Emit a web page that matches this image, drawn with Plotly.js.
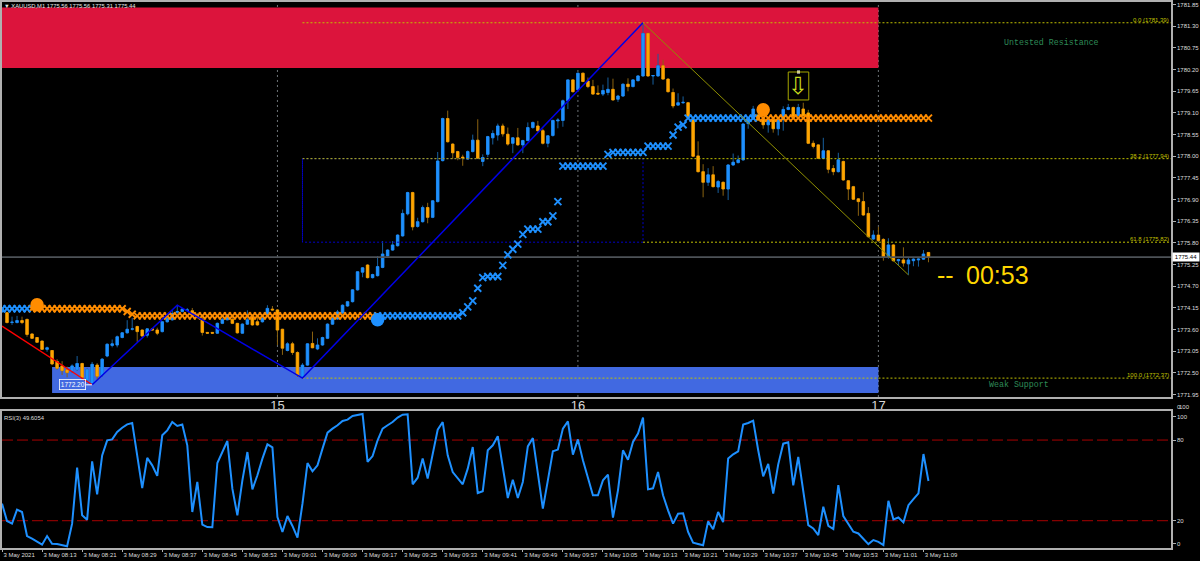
<!DOCTYPE html>
<html><head><meta charset="utf-8">
<script src="https://cdn.plot.ly/plotly-3.0.1.min.js"></script>
<style>html,body{margin:0;padding:0;background:#000}#c{width:1200px;height:561px}</style>
</head><body><div id="c"></div>
<script>
// one candle per minute, bar 0 = 08:05
const opens=[
1774.05,1774.03,1773.78,1773.78,1773.83,1773.86,1773.49,1773.40,1773.31,1773.10,
1773.07,1772.79,1772.68,1772.58,1772.55,1772.59,1772.74,1772.32,1772.24,1772.70,
1772.45,1772.93,1773.20,1773.21,1773.40,1773.52,1773.61,1773.68,1773.59,1773.46,
1773.62,1773.59,1773.55,1773.80,1773.85,1774.04,1774.06,1774.09,1774.08,1773.97,
1773.85,1773.53,1773.53,1773.51,1773.76,1773.85,1773.86,1773.76,1773.51,1773.74,
1773.95,1773.80,1773.80,1773.97,1774.12,1774.10,1773.61,1773.07,1773.24,1773.02,
1772.41,1772.70,1773.25,1773.11,1773.21,1773.38,1773.74,1773.87,1774.02,1774.20,
1774.31,1774.61,1775.06,1775.24,1774.92,1774.97,1775.18,1775.47,1775.62,1775.73,
1775.98,1776.54,1777.08,1776.22,1776.34,1776.70,1776.45,1776.85,1777.89,1778.96,
1778.31,1778.12,1777.98,1777.93,1778.12,1778.41,1777.87,1778.05,1778.47,1778.54,
1778.77,1778.56,1778.33,1778.47,1778.29,1778.40,1778.73,1778.77,1778.65,1778.33,
1778.53,1778.90,1778.91,1779.41,1779.94,1779.69,1780.11,1779.91,1779.77,1779.60,
1779.58,1779.62,1779.70,1779.45,1779.53,1779.83,1779.77,1779.92,1780.04,1781.12,
1780.04,1780.04,1780.30,1779.96,1779.62,1779.30,1779.36,1779.36,1778.94,1778.01,
1777.61,1777.34,1777.53,1777.22,1777.34,1777.17,1777.78,1777.84,1777.91,1778.83,
1778.95,1779.05,1778.95,1778.80,1778.93,1778.70,1778.93,1779.19,1779.24,1779.03,
1779.20,1779.10,1778.33,1778.29,1777.95,1778.14,1777.69,1777.61,1777.87,1777.38,
1777.23,1776.92,1776.85,1776.55,1775.90,1776.00,1775.89,1775.45,1775.75,1775.35,
1775.37,1775.27,1775.35,1775.37,1775.39,1775.56];
const highs=[
1774.17,1774.05,1773.93,1773.95,1773.93,1773.88,1773.50,1773.41,1773.32,1773.17,
1773.08,1772.85,1772.80,1772.66,1772.72,1772.93,1772.76,1772.62,1772.78,1772.75,
1772.88,1773.25,1773.35,1773.45,1773.54,1773.84,1773.90,1773.70,1773.60,1773.64,
1773.63,1773.65,1773.82,1773.95,1774.10,1774.22,1774.15,1774.15,1774.15,1774.02,
1773.96,1773.54,1773.54,1773.78,1773.90,1774.00,1773.95,1773.77,1773.76,1774.09,
1773.97,1773.95,1773.95,1774.22,1774.20,1774.12,1773.62,1773.28,1773.29,1773.05,
1772.75,1773.26,1773.55,1773.38,1773.42,1773.76,1773.95,1774.10,1774.24,1774.33,
1774.63,1775.08,1775.19,1775.26,1775.02,1775.47,1775.85,1775.64,1775.85,1776.02,
1776.65,1777.10,1777.10,1776.44,1776.75,1776.82,1776.89,1778.11,1778.98,1779.16,
1778.33,1778.14,1778.04,1778.15,1778.55,1778.94,1778.05,1778.52,1778.66,1778.83,
1778.83,1778.73,1778.49,1778.72,1778.42,1778.86,1778.88,1778.90,1778.70,1778.54,
1778.93,1778.97,1779.44,1779.95,1779.96,1780.12,1780.12,1780.00,1779.94,1779.80,
1779.82,1780.00,1779.97,1779.56,1779.85,1779.98,1779.96,1780.06,1781.39,1781.14,
1780.06,1780.60,1780.45,1779.98,1779.72,1779.60,1779.52,1779.38,1778.96,1778.38,
1777.80,1777.70,1777.75,1777.40,1777.36,1777.80,1778.07,1778.02,1778.84,1778.99,
1779.28,1779.15,1779.05,1778.95,1778.95,1778.95,1779.27,1779.33,1779.26,1779.33,
1779.36,1779.18,1778.40,1778.31,1778.47,1778.16,1777.78,1778.09,1777.89,1777.40,
1777.25,1776.94,1777.09,1776.71,1776.12,1776.21,1775.92,1775.92,1775.77,1775.40,
1775.69,1775.42,1775.41,1775.41,1775.62,1775.56];
const lows=[
1774.03,1773.76,1773.72,1773.76,1773.74,1773.42,1773.37,1773.27,1773.09,1773.04,
1772.70,1772.58,1772.45,1772.39,1772.50,1772.55,1772.32,1772.28,1772.20,1772.33,
1772.40,1772.90,1773.15,1773.15,1773.38,1773.50,1773.58,1773.29,1773.42,1773.40,
1773.58,1773.46,1773.53,1773.78,1773.83,1773.98,1774.04,1774.05,1773.98,1773.88,
1773.45,1773.50,1773.50,1773.49,1773.74,1773.84,1773.74,1773.50,1773.50,1773.72,
1773.70,1773.70,1773.78,1773.95,1774.08,1773.21,1772.96,1773.05,1772.96,1772.40,
1772.37,1772.68,1773.13,1773.08,1773.19,1773.36,1773.72,1773.85,1774.00,1774.18,
1774.29,1774.59,1774.93,1774.90,1774.90,1774.95,1775.16,1775.45,1775.60,1775.71,
1775.96,1776.50,1776.12,1776.19,1776.32,1776.30,1776.43,1776.83,1777.87,1778.35,
1777.93,1777.90,1777.76,1777.91,1778.10,1777.93,1777.75,1777.98,1778.30,1778.40,
1778.50,1778.27,1778.08,1778.27,1778.08,1778.38,1778.70,1778.62,1778.30,1778.23,
1778.50,1778.71,1778.75,1779.20,1779.62,1779.67,1779.88,1779.73,1779.56,1779.57,
1779.53,1779.55,1779.42,1779.38,1779.51,1779.65,1779.75,1779.90,1780.02,1780.02,
1779.82,1780.02,1779.95,1779.62,1779.22,1779.28,1779.33,1778.99,1777.98,1777.59,
1776.96,1777.25,1777.21,1777.07,1777.00,1776.89,1777.76,1777.82,1777.89,1778.70,
1778.93,1778.90,1778.70,1778.60,1778.60,1778.53,1778.65,1779.17,1778.93,1779.01,
1779.01,1778.31,1778.20,1777.93,1777.93,1777.57,1777.52,1777.59,1777.38,1776.89,
1776.89,1776.49,1776.49,1775.94,1775.88,1775.84,1775.35,1775.40,1775.33,1775.24,
1775.20,1774.99,1775.21,1775.20,1775.37,1775.31];
const closes=[
1774.15,1773.78,1773.79,1773.83,1773.78,1773.48,1773.38,1773.28,1773.10,1773.14,
1772.73,1772.62,1772.56,1772.51,1772.68,1772.74,1772.39,1772.59,1772.72,1772.42,
1772.85,1773.23,1773.24,1773.42,1773.52,1773.61,1773.62,1773.55,1773.44,1773.62,
1773.59,1773.51,1773.80,1773.89,1774.01,1774.06,1774.12,1774.10,1774.01,1773.92,
1773.53,1773.51,1773.51,1773.76,1773.86,1773.97,1773.76,1773.52,1773.74,1773.85,
1773.72,1773.72,1773.89,1774.14,1774.10,1773.59,1773.13,1773.24,1773.02,1772.45,
1772.70,1773.24,1773.14,1773.21,1773.40,1773.74,1773.89,1774.05,1774.22,1774.31,
1774.61,1775.07,1775.17,1774.92,1775.00,1775.20,1775.52,1775.62,1775.75,1776.00,
1776.55,1777.08,1776.21,1776.34,1776.70,1776.45,1776.87,1777.88,1778.96,1778.37,
1778.09,1777.97,1777.96,1778.12,1778.41,1777.95,1777.97,1778.50,1778.58,1778.77,
1778.57,1778.31,1778.47,1778.29,1778.40,1778.73,1778.86,1778.65,1778.33,1778.52,
1778.91,1778.92,1779.41,1779.94,1779.64,1780.11,1779.90,1779.77,1779.58,1779.58,
1779.67,1779.70,1779.43,1779.53,1779.83,1779.77,1779.94,1780.04,1781.12,1780.04,
1780.05,1780.30,1779.96,1779.64,1779.28,1779.36,1779.37,1779.01,1778.00,1777.61,
1777.34,1777.53,1777.23,1777.36,1777.17,1777.78,1777.85,1777.91,1778.82,1778.97,
1779.20,1778.92,1778.80,1778.93,1778.70,1778.93,1779.19,1779.24,1779.01,1779.24,
1779.03,1778.33,1778.25,1777.95,1778.14,1777.67,1777.61,1777.91,1777.40,1777.17,
1776.91,1776.85,1776.51,1775.96,1776.00,1775.86,1775.45,1775.75,1775.35,1775.38,
1775.29,1775.37,1775.39,1775.39,1775.52,1775.44];

// trailing stop "x" level per bar
const stopLevels=[
1774.13,1774.13,1774.13,1774.13,1774.13,1774.13,1774.13,1774.13,1774.13,1774.13,
1774.13,1774.13,1774.13,1774.13,1774.13,1774.13,1774.13,1774.13,1774.13,1774.13,
1774.13,1774.13,1774.13,1774.13,1774.13,1774.06,1773.99,1773.95,1773.95,1773.95,
1773.95,1773.95,1773.95,1773.95,1773.95,1773.95,1773.95,1773.95,1773.95,1773.95,
1773.95,1773.95,1773.95,1773.95,1773.95,1773.95,1773.95,1773.95,1773.95,1773.95,
1773.95,1773.95,1773.95,1773.95,1773.95,1773.95,1773.95,1773.95,1773.95,1773.95,
1773.95,1773.95,1773.95,1773.95,1773.95,1773.95,1773.95,1773.95,1773.95,1773.95,
1773.95,1773.95,1773.95,1773.95,1773.95,1773.95,1773.95,1773.95,1773.95,1773.95,
1773.95,1773.95,1773.95,1773.95,1773.95,1773.95,1773.95,1773.95,1773.95,1773.95,
1773.95,1773.95,1774.03,1774.18,1774.33,1774.65,1774.92,1774.95,1774.95,1774.95,
1775.23,1775.50,1775.64,1775.77,1776.02,1776.15,1776.15,1776.15,1776.34,1776.34,
1776.49,1776.85,1777.75,1777.75,1777.75,1777.75,1777.75,1777.75,1777.75,1777.75,
1777.75,1778.05,1778.10,1778.10,1778.10,1778.10,1778.10,1778.10,1778.10,1778.26,
1778.26,1778.26,1778.26,1778.26,1778.54,1778.74,1778.80,1778.97,1778.97,1778.97,
1778.97,1778.97,1778.97,1778.97,1778.97,1778.97,1778.97,1778.97,1778.97,1778.97,
1778.97,1778.97,1778.97,1778.97,1778.97,1778.97,1778.97,1778.97,1778.97,1778.97,
1778.97,1778.97,1778.97,1778.97,1778.97,1778.97,1778.97,1778.97,1778.97,1778.97,
1778.97,1778.97,1778.97,1778.97,1778.97,1778.97,1778.97,1778.97,1778.97,1778.97,
1778.97,1778.97,1778.97,1778.97,1778.97,1778.97];
const blueStopRanges=[[0,5],[75,150]];

const rsiValues=[
32.7,19.8,17.8,28.2,26.5,8.6,6.6,4.7,2.2,8.6,
2.9,2.7,2.0,1.0,17.8,59.5,24.0,20.8,64.2,39.6,
68.6,79.8,80.5,86.0,89.2,91.7,92.7,68.6,44.3,66.7,
61.2,53.3,83.5,87.2,93.4,90.5,91.5,76.1,26.5,48.8,
17.1,15.3,15.1,62.9,71.1,79.3,43.8,24.0,50.0,71.1,
43.3,53.8,66.2,76.8,74.6,22.8,11.6,23.5,16.1,7.4,
32.7,62.9,56.7,61.2,73.6,85.5,88.5,91.0,94.2,95.2,
97.9,98.9,99.4,63.7,68.1,79.8,88.5,91.0,93.4,96.7,
98.9,99.1,47.1,52.0,66.2,51.3,69.9,87.7,93.4,68.6,
56.2,51.3,47.1,58.7,74.8,40.6,41.9,72.4,76.1,82.8,
58.7,36.9,50.5,36.9,48.8,75.3,81.5,53.8,29.0,50.0,
71.6,72.9,88.5,93.9,69.1,80.5,64.9,52.0,38.9,38.9,
50.0,54.3,22.3,42.6,72.4,65.4,78.6,84.8,96.7,43.3,
44.1,56.2,38.9,27.7,17.8,25.2,25.5,11.6,3.7,2.7,
1.7,19.5,13.6,26.5,19.0,66.2,69.4,71.6,91.5,92.7,
94.4,72.4,53.0,62.2,40.1,61.9,77.3,78.3,46.3,67.4,
42.8,16.7,14.3,9.3,30.4,16.2,13.8,46.5,23.4,18.0,
11.8,10.5,6.8,2.6,5.6,4.3,1.9,34.8,20.9,22.4,
18.7,31.6,36.1,40.3,69.6,49.5];

const priceTicks=[1781.85,1781.30,1780.75,1780.20,1779.65,1779.10,1778.55,1778.00,1777.45,1776.90,1776.35,1775.80,1775.25,1774.70,1774.15,1773.60,1773.05,1772.50,1771.95];
const timeTickBars=[0,8,16,24,32,40,48,56,64,72,80,88,96,104,112,120,128,136,144,152,160,168,176,184];
const timeTickLabels=["3 May 2021","3 May 08:13","3 May 08:21","3 May 08:29","3 May 08:37","3 May 08:45","3 May 08:53","3 May 09:01","3 May 09:09","3 May 09:17","3 May 09:25","3 May 09:33","3 May 09:41","3 May 09:49","3 May 09:57","3 May 10:05","3 May 10:13","3 May 10:21","3 May 10:29","3 May 10:37","3 May 10:45","3 May 10:53","3 May 11:01","3 May 11:09"];
const hourBars=[55,115,175];
const hourLabels=["15","16","17"];

const fibNames=["0.0","38.2","61.8","100.0"];
const fibLevels=[1781.39,1777.94,1775.82,1772.37];
const fibStartBars=[60,60,128,60];
const fibEndBar=233.4;

const redZigBars=[0,18];       const redZigPrices=[1773.69,1772.20];
const blueZigBars=[18,35,60,128]; const blueZigPrices=[1772.20,1774.22,1772.37,1781.39];
const oliveZigBars=[128,181];  const oliveZigPrices=[1781.39,1774.99];

const resistZone=[1780.24,1781.78]; const resistBars=[0,175];
const supportZone=[1771.99,1772.65]; const supportBars=[10,175];
const bidPrice=1775.44;
const orangeDotBars=[7,152]; const orangeDotPrices=[1774.23,1779.18];
const blueDotBars=[75];      const blueDotPrices=[1773.85];
const signalBoxBars=[157,161.1]; const signalBoxPrices=[1779.43,1780.14];
const lowLabelPrice=1772.20;

const ORANGE='#ffa500', BLUE='#1e90ff', FRAME='#b0b0b0';
const FONT='"Liberation Sans",Arial,sans-serif';
const bars=opens.map((_,i)=>i);
const inBlue=i=>blueStopRanges.some(r=>i>=r[0]&&i<=r[1]);
const blueStop=bars.filter(inBlue), orangeStop=bars.filter(i=>!inBlue(i));

function candleTrace(o,h,l,c,upLine,upFill,dnLine,dnFill,w){
  return {type:'candlestick',x:bars,open:o,high:h,low:l,close:c,xaxis:'x',yaxis:'y',hoverinfo:'skip',whiskerwidth:0,
    increasing:{line:{color:upLine,width:w},fillcolor:upFill},
    decreasing:{line:{color:dnLine,width:w},fillcolor:dnFill},showlegend:false};
}
function lineTrace(x,y,color,width,dash){
  return {type:'scatter',mode:'lines',x:x,y:y,xaxis:'x',yaxis:'y',line:{color:color,width:width,dash:dash||'solid'},hoverinfo:'skip',showlegend:false};
}
const bodyHi=opens.map((v,i)=>Math.max(v,closes[i]));
const bodyLo=opens.map((v,i)=>Math.min(v,closes[i]));

const traces=[
  lineTrace([0,fibEndBar],[bidPrice,bidPrice],'#4d5257',1.6),
  lineTrace([60,128,128,60,60],[fibLevels[1],fibLevels[1],fibLevels[2],fibLevels[2],fibLevels[1]],'#0000c8',1,'2px,2px'),
  ...fibLevels.map((v,i)=>lineTrace([fibStartBars[i],fibEndBar],[v,v],'#c0c000',1,'2px,2px')),
  candleTrace(opens,highs,lows,closes,'#175f9f','#175f9f','#8a6210','#8a6210',1),
  candleTrace(opens,bodyHi,bodyLo,closes,BLUE,BLUE,ORANGE,ORANGE,0.6),
  {type:'scatter',mode:'markers',x:orangeStop,y:orangeStop.map(i=>stopLevels[i]),xaxis:'x',yaxis:'y',hoverinfo:'skip',showlegend:false,
   marker:{symbol:'x-thin',size:7,color:'#ff8c00',line:{color:'#ff8c00',width:1.9}}},
  {type:'scatter',mode:'markers',x:blueStop,y:blueStop.map(i=>stopLevels[i]),xaxis:'x',yaxis:'y',hoverinfo:'skip',showlegend:false,
   marker:{symbol:'x-thin',size:7,color:BLUE,line:{color:BLUE,width:1.9}}},
  {type:'scatter',mode:'markers',x:orangeDotBars,y:orangeDotPrices,xaxis:'x',yaxis:'y',hoverinfo:'skip',showlegend:false,marker:{size:13.5,color:'#ff8c00'}},
  {type:'scatter',mode:'markers',x:blueDotBars,y:blueDotPrices,xaxis:'x',yaxis:'y',hoverinfo:'skip',showlegend:false,marker:{size:13.5,color:BLUE}},
  lineTrace(redZigBars,redZigPrices,'#ff0000',1.3),
  lineTrace(blueZigBars,blueZigPrices,'#0000e6',1.5),
  lineTrace(oliveZigBars,oliveZigPrices,'#8f8f00',1),
  lineTrace([16.8,18],[lowLabelPrice,lowLabelPrice],'#ffffff',1),
  {type:'scatter',mode:'markers',x:[(signalBoxBars[0]+signalBoxBars[1])/2],y:[signalBoxPrices[1]],xaxis:'x',yaxis:'y',hoverinfo:'skip',showlegend:false,marker:{symbol:'square',size:3,color:'#ffffff'}},
  {type:'scatter',mode:'lines',x:[0,fibEndBar],y:[80,80],xaxis:'x2',yaxis:'y2',line:{color:'#a80000',width:1,dash:'11px,4px'},hoverinfo:'skip',showlegend:false},
  {type:'scatter',mode:'lines',x:[0,fibEndBar],y:[20,20],xaxis:'x2',yaxis:'y2',line:{color:'#a80000',width:1,dash:'11px,4px'},hoverinfo:'skip',showlegend:false},
  {type:'scatter',mode:'lines',x:bars,y:rsiValues,xaxis:'x2',yaxis:'y2',line:{color:BLUE,width:2},hoverinfo:'skip',showlegend:false}
];

const shapes=[
  {type:'rect',xref:'x',yref:'y',x0:resistBars[0],x1:resistBars[1],y0:resistZone[0],y1:resistZone[1],fillcolor:'#dc143c',line:{width:0},layer:'below'},
  {type:'rect',xref:'x',yref:'y',x0:supportBars[0],x1:supportBars[1],y0:supportZone[0],y1:supportZone[1],fillcolor:'#4169e1',line:{width:0},layer:'below'},
  ...hourBars.map(b=>({type:'line',xref:'x',yref:'y domain',x0:b,x1:b,y0:0,y1:1,line:{color:'#6e7478',width:1,dash:'2px,3px'},layer:'below'})),
  {type:'rect',xref:'x',yref:'y',x0:signalBoxBars[0],x1:signalBoxBars[1],y0:signalBoxPrices[0],y1:signalBoxPrices[1],line:{color:'#a6a600',width:1}},
  {type:'line',xref:'x',yref:'y',x0:60,x1:60,y0:fibLevels[1],y1:fibLevels[2],line:{color:'#0000c8',width:1,dash:'2px,2px'}}
];

const smallFont=(size,color)=>({family:FONT,size:size,color:color});
const ann=[
  {xref:'paper',yref:'paper',x:0,y:0.9925,xanchor:'left',yanchor:'middle',showarrow:false,text:'▼ XAUUSD,M1 1775.56 1775.56 1775.31 1775.44',font:smallFont(5.8,'#e6e6e6')},
  {xref:'paper',yref:'paper',x:0,y:0.2375,xanchor:'left',yanchor:'middle',showarrow:false,text:'RSI(3) 49.6054',font:smallFont(5.9,'#dddddd')},
  ...fibNames.map((n,i)=>({xref:'paper',yref:'y',x:0.9995,y:fibLevels[i],xanchor:'right',yanchor:'bottom',yshift:-1,showarrow:false,text:n+' ('+fibLevels[i].toFixed(2)+')',font:smallFont(6,'#c0c000'),borderpad:0})),
  {xref:'x',yref:'y',x:209.5,y:1780.88,showarrow:false,text:'Untested Resistance',font:{family:'"Liberation Mono",monospace',size:8.3,color:'#2e8b57'}},
  {xref:'x',yref:'y',x:203,y:1772.20,showarrow:false,text:'Weak Support',font:{family:'"Liberation Mono",monospace',size:8.3,color:'#2e8b57'}},
  {xref:'x',yref:'y',x:14.1,y:lowLabelPrice,showarrow:false,text:lowLabelPrice.toFixed(2),font:smallFont(6.5,'#ffffff'),bordercolor:'#ffffff',borderwidth:0.8,borderpad:1},
  {xref:'x',yref:'y',x:186.3,y:1774.99,xanchor:'left',showarrow:false,text:'--',font:smallFont(25,'#ffd700')},
  {xref:'x',yref:'y',x:192.1,y:1774.99,xanchor:'left',showarrow:false,text:'00:53',font:smallFont(25,'#ffd700')},
  {xref:'x',yref:'y',x:159,y:1779.78,showarrow:false,text:'⇩',font:{family:'"DejaVu Sans",sans-serif',size:24,color:'#c8dc1e'}},
  {xref:'paper',yref:'y',x:1.0005,y:bidPrice,xanchor:'left',showarrow:false,text:bidPrice.toFixed(2),font:smallFont(6,'#000000'),bgcolor:'#ffffff',width:26,height:8,borderpad:0},
  {xref:'paper',yref:'paper',x:1.0035,y:0.2585,xanchor:'left',yanchor:'middle',showarrow:false,text:'0',font:smallFont(6,'#dddddd')},
  {xref:'paper',yref:'paper',x:1.005,y:0.2585,xanchor:'left',yanchor:'middle',showarrow:false,text:'100',font:smallFont(6,'#dddddd')}
];

const xAxisBase={range:[0,233.43],showline:true,mirror:true,linecolor:FRAME,linewidth:1.8,zeroline:false,showgrid:false,tickmode:'array'};
const yAxisBase={side:'right',showline:true,mirror:true,linecolor:FRAME,linewidth:1.8,zeroline:false,showgrid:false,tickmode:'array',ticks:'outside',ticklen:3,tickcolor:FRAME,tickfont:smallFont(6,'#dddddd')};
const layout={
  width:1200,height:561,paper_bgcolor:'#000',plot_bgcolor:'#000',showlegend:false,boxgap:0.3,
  margin:{l:2,r:29,t:2,b:13,pad:0},
  xaxis:Object.assign({},xAxisBase,{anchor:'y',domain:[0,1],rangeslider:{visible:false},tickvals:hourBars,ticktext:hourLabels,ticks:'',tickangle:0,tickfont:smallFont(13,'#d8d8d8'),ticklabelstandoff:-4}),
  yaxis:Object.assign({},yAxisBase,{domain:[0.2766,1],range:[1771.891,1781.917],tickvals:priceTicks,ticktext:priceTicks.map(v=>v.toFixed(2))}),
  xaxis2:Object.assign({},xAxisBase,{anchor:'y2',domain:[0,1],tickvals:timeTickBars,ticktext:timeTickLabels,ticks:'outside',ticklen:2,tickcolor:FRAME,tickangle:0,ticklabelposition:'outside right',tickfont:smallFont(6,'#dddddd'),ticklabeloverflow:'allow'}),
  yaxis2:Object.assign({},yAxisBase,{domain:[0,0.2509],range:[-0.3,101.6],tickvals:[97.3,80,20,2.7],ticktext:['100','80','20','0']}),
  shapes:shapes,annotations:ann
};
Plotly.newPlot('c',traces,layout,{displayModeBar:false,staticPlot:true});
</script></body></html>
